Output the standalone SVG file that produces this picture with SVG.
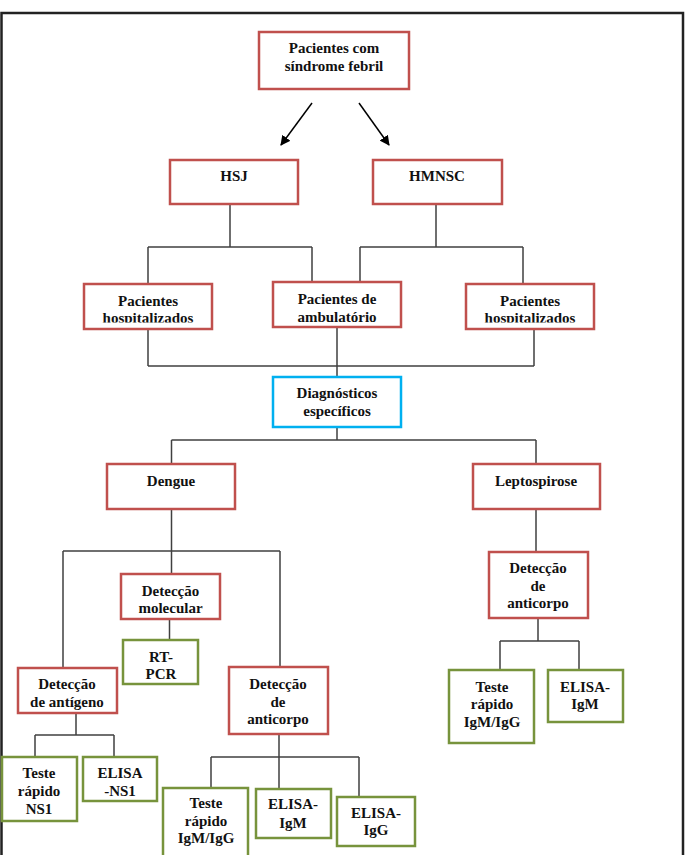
<svg xmlns="http://www.w3.org/2000/svg" width="686" height="855" viewBox="0 0 686 855">
<style>
.bx{fill:#fff;stroke-width:2.5}
.r{stroke:#c0504d}
.g{stroke:#77933c}
.c{stroke:#00b0f0}
text{font-family:'Liberation Serif','Times New Roman',Times,serif;font-weight:bold;font-size:15px;fill:#111;text-anchor:middle}
.ln{fill:none;stroke:#404040;stroke-width:1.5}
</style>
<defs>
<marker id="ah" viewBox="0 0 10 10" refX="9" refY="5" markerWidth="10" markerHeight="10" markerUnits="userSpaceOnUse" orient="auto">
<path d="M0,0 L10,5 L0,10 Z" fill="#000"/>
</marker>
<clipPath id="clipL"><rect x="84" y="284" width="128" height="38.5"/></clipPath>
<clipPath id="clipR"><rect x="466" y="284" width="128" height="38.5"/></clipPath>
</defs>
<rect width="686" height="855" fill="#fff"/>
<path d="M1.5,860 V13 H683 V860" fill="none" stroke="#222" stroke-width="2.5"/>

<g id="connectors">
<line x1="312" y1="103" x2="281" y2="145" stroke="#000" stroke-width="1.5" marker-end="url(#ah)"/>
<line x1="359" y1="103" x2="389" y2="145" stroke="#000" stroke-width="1.5" marker-end="url(#ah)"/>
<path class="ln" d="M230,204 V247 M148,247 H312 M148,247 V284 M312,247 V282"/>
<path class="ln" d="M436,204 V247 M360,247 H523 M360,247 V282 M523,247 V284"/>
<path class="ln" d="M148,329 V366 M534,329 V366 M148,366 H534 M337,327 V377"/>
<path class="ln" d="M337,427 V440 M171.5,440 H536 M171.5,440 V464 M536,440 V464"/>
<path class="ln" d="M171.5,509 V574 M63,551 H280 M63,551 V668 M280,551 V667 M169.5,619 V640"/>
<path class="ln" d="M76,713 V735 M35,735 H114 M35,735 V757 M114,735 V757"/>
<path class="ln" d="M279,734 V757 M211,757 H359 M211,757 V788 M279,757 V789 M359,757 V797"/>
<path class="ln" d="M536,509 V552 M538,618 V641 M500,641 H579 M500,641 V670 M579,641 V670"/>
</g>

<g font-family="Liberation Serif, serif" font-weight="bold">
<g id="n-febril"><rect class="bx r" x="259" y="32" width="150" height="57"/><text x="334" y="53">Pacientes com</text><text x="334" y="71">síndrome febril</text></g>
<g id="n-hsj"><rect class="bx r" x="170" y="160" width="128" height="44"/><text x="234" y="181">HSJ</text></g>
<g id="n-hmnsc"><rect class="bx r" x="373" y="160" width="129" height="44"/><text x="437" y="181">HMNSC</text></g>
<g id="n-hosp1"><rect class="bx r" x="84" y="284" width="128" height="45"/><g clip-path="url(#clipL)"><text x="148" y="305.5">Pacientes</text><text x="148" y="323">hospitalizados</text></g></g>
<g id="n-ambul"><rect class="bx r" x="273" y="282" width="128" height="45"/><text x="337" y="304">Pacientes de</text><text x="337" y="321.5">ambulatório</text></g>
<g id="n-hosp2"><rect class="bx r" x="466" y="284" width="128" height="45"/><g clip-path="url(#clipR)"><text x="530" y="305.5">Pacientes</text><text x="530" y="323">hospitalizados</text></g></g>
<g id="n-diag"><rect class="bx c" x="273" y="377" width="128" height="50"/><text x="337" y="398">Diagnósticos</text><text x="337" y="416">específicos</text></g>
<g id="n-dengue"><rect class="bx r" x="107" y="464" width="128" height="45"/><text x="171" y="486">Dengue</text></g>
<g id="n-lepto"><rect class="bx r" x="473" y="464" width="127" height="45"/><text x="536" y="486">Leptospirose</text></g>
<g id="n-molec"><rect class="bx r" x="121" y="574" width="99" height="45"/><text x="170.5" y="596">Detecção</text><text x="170.5" y="613">molecular</text></g>
<g id="n-rtpcr"><rect class="bx g" x="123" y="640" width="75" height="44"/><text x="161" y="662">RT-</text><text x="161" y="679">PCR</text></g>
<g id="n-antig"><rect class="bx r" x="18" y="668" width="99" height="45"/><text x="67" y="689">Detecção</text><text x="67" y="707">de antígeno</text></g>
<g id="n-antic1"><rect class="bx r" x="229" y="667" width="99" height="67"/><text x="278" y="689">Detecção</text><text x="278" y="707">de</text><text x="278" y="724">anticorpo</text></g>
<g id="n-trns1"><rect class="bx g" x="2" y="757" width="75" height="64"/><text x="39" y="778">Teste</text><text x="39" y="796">rápido</text><text x="39" y="814">NS1</text></g>
<g id="n-elns1"><rect class="bx g" x="83" y="757" width="74" height="44"/><text x="120" y="778">ELISA</text><text x="120" y="796">-NS1</text></g>
<g id="n-tr1"><rect class="bx g" x="163" y="788" width="85" height="70"/><text x="206" y="808">Teste</text><text x="206" y="826">rápido</text><text x="206" y="843">IgM/IgG</text></g>
<g id="n-elm1"><rect class="bx g" x="256" y="789" width="75" height="49"/><text x="293" y="809">ELISA-</text><text x="293" y="828">IgM</text></g>
<g id="n-elg"><rect class="bx g" x="337" y="797" width="78" height="49"/><text x="376" y="818">ELISA-</text><text x="376" y="835">IgG</text></g>
<g id="n-antic2"><rect class="bx r" x="489" y="552" width="99" height="66"/><text x="538" y="573">Detecção</text><text x="538" y="591">de</text><text x="538" y="608">anticorpo</text></g>
<g id="n-tr2"><rect class="bx g" x="449" y="670" width="85" height="73"/><text x="492" y="692">Teste</text><text x="492" y="709">rápido</text><text x="492" y="727">IgM/IgG</text></g>
<g id="n-elm2"><rect class="bx g" x="548" y="670" width="75" height="52"/><text x="585" y="692">ELISA-</text><text x="585" y="709">IgM</text></g>
</g>
</svg>
